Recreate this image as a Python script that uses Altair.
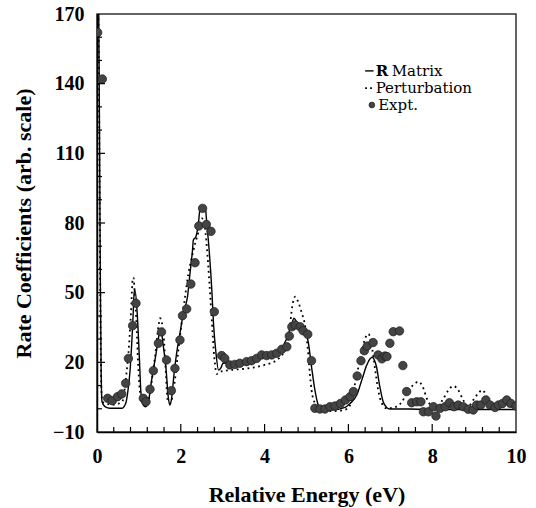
import altair as alt
import pandas as pd

# ---------------- data ----------------
expt_e = [0.015, 0.127, 0.255, 0.365, 0.49, 0.59, 0.685, 0.75, 0.85, 0.93,
          1.105, 1.17, 1.265, 1.345, 1.465, 1.54, 1.66, 1.775, 1.86, 1.98,
          2.04, 2.14, 2.24, 2.34, 2.43, 2.52, 2.61, 2.72, 2.80, 2.975,
          3.05, 3.17, 3.29, 3.41, 3.57, 3.69, 3.81, 3.93, 4.05, 4.17,
          4.29, 4.41, 4.53, 4.59, 4.65, 4.73, 4.85, 4.92, 5.03, 5.12,
          5.20, 5.32, 5.44, 5.56, 5.68, 5.81, 5.93, 6.04, 6.12, 6.21,
          6.30, 6.38, 6.45, 6.59, 6.71, 6.80, 6.87, 6.92, 6.99, 7.07,
          7.22, 7.30, 7.39, 7.51, 7.63, 7.73, 7.79, 7.91, 8.03, 8.09,
          8.19, 8.31, 8.41, 8.52, 8.62, 8.74, 8.86, 8.98, 9.06, 9.16,
          9.28, 9.38, 9.50, 9.58, 9.68, 9.78, 9.88, 10.0]
expt_v = [162, 142, 4.5, 3.5, 5.2, 6.4, 11, 21.7, 35.8, 45.4,
          4.5, 3.0, 8.4, 16.4, 28.2, 33.1, 21, 7.8, 17.4, 29.6,
          40.1, 43, 53.7, 62.9, 78.7, 86.3, 79.4, 76.4, 41.8, 22.9,
          21.7, 18.9, 19.1, 19.6, 20.3, 20.7, 21.7, 23.2, 22.9, 23.2,
          23.9, 25.6, 26.7, 31.3, 35.3, 36.1, 35.3, 33.6, 32.1, 20.7,
          0.2, -0.1, -0.1, 0.9, 1.2, 2.3, 3.8, 5.2, 7.4, 14.1,
          20.7, 25, 27, 28.5, 23.2, 21.5, 22.7, 22.5, 28.2, 33.2,
          33.5, 18.6, 7.4, 2.6, 3.0, 3.0, -1.3, -1.3, 0.9, -3.1,
          0.2, 0.9, 2.6, 0.9, 1.6, 0.9, -0.2, -0.5, 1.6, 1.6,
          3.8, 1.6, 0.6, 1.6, 2.3, 3.8, 2.3, 1.2]

rmatrix_e = [0.04, 0.06, 0.08, 0.10, 0.12, 0.19, 0.31, 0.59, 0.685, 0.74,
             0.79, 0.85, 0.89, 0.905, 0.96, 1.01, 1.05, 1.105, 1.16, 1.225,
             1.305, 1.41, 1.49, 1.52, 1.585, 1.65, 1.70, 1.74, 1.78, 1.84,
             1.90, 1.98, 2.06, 2.16, 2.22, 2.28, 2.30, 2.36, 2.42, 2.46,
             2.50, 2.58, 2.62, 2.67, 2.74, 2.78, 2.84, 2.90, 2.95, 3.01,
             3.3, 3.6, 3.9, 4.2, 4.37, 4.53, 4.65, 4.70, 4.80, 4.92,
             5.04, 5.12, 5.20, 5.28, 5.36, 5.6, 5.92, 6.04, 6.20, 6.32,
             6.44, 6.52, 6.57, 6.62, 6.67, 6.75, 6.83, 6.91, 6.99, 7.47,
             8.0, 9.0, 10.0]
rmatrix_v = [175, 120, 55, 15, 3, 0.9, 0.2, 0.2, 2.3, 8,
             16.7, 35.3, 50.4, 51.2, 41.1, 22.4, 6.7, 1.6, 0.9, 3,
             12.4, 23.9, 32.5, 33.9, 26.7, 16.7, 5.2, 1.6, 4.5, 15.2,
             23.9, 32.5, 41.1, 48.3, 58.3, 68.4, 72.7, 74.1, 79.8, 86.3,
             87.3, 87.3, 79.8, 69.8, 51.2, 36.8, 23.9, 16.7, 17.4, 19.6,
             20, 20.8, 21.8, 23.5, 25.3, 30.3, 36.8, 39, 36.1, 34.7,
             28.9, 18.1, 8.1, 1.6, -0.2, -0.5, 0.6, 2.3, 5.9, 12.4,
             18.9, 21.6, 22.2, 21, 18.1, 9.5, 3, 0.6, -0.1, -0.1,
             -0.3, -0.3, -0.3]

perturb_e = [0.03, 0.05, 0.07, 0.09, 0.11, 0.13, 0.19, 0.4, 0.6, 0.63,
             0.685, 0.75, 0.81, 0.85, 0.87, 0.905, 0.945, 0.985, 1.03, 1.105,
             1.19, 1.265, 1.32, 1.385, 1.465, 1.505, 1.585, 1.64, 1.685, 1.74,
             1.80, 1.86, 1.94, 2.02, 2.10, 2.18, 2.26, 2.34, 2.42, 2.50,
             2.56, 2.62, 2.68, 2.74, 2.80, 2.86, 2.94, 3.2, 3.6, 4.0,
             4.29, 4.45, 4.53, 4.60, 4.66, 4.73, 4.80, 4.89, 4.97, 5.04,
             5.08, 5.12, 5.20, 5.28, 5.6, 5.9, 6.04, 6.16, 6.24, 6.32,
             6.40, 6.48, 6.56, 6.64, 6.71, 6.80, 6.91, 7.15, 7.35, 7.43,
             7.55, 7.67, 7.79, 7.87, 8.03, 8.15, 8.27, 8.39, 8.51, 8.62,
             8.74, 8.86, 8.98, 9.10, 9.20, 9.30, 9.38, 9.6, 10.0]
perturb_v = [175, 130, 70, 25, 6, 3, 2.3, 1.8, 3, 4.5,
             12.4, 23.9, 41.1, 55.5, 56.5, 48.3, 35.3, 18.1, 6.7, 2.3,
             2.5, 6.7, 13.8, 22.4, 35.3, 39, 32.5, 16.7, 3.8, 2.3,
             5.2, 12.4, 25, 37, 48, 58, 65, 71, 76, 82,
             80, 70, 55, 38, 22, 15, 16, 16.7, 17.4, 18.9,
             21, 24, 27, 35, 44, 48.3, 46.1, 41.1, 35.3, 23.9,
             15.3, 8.1, 2.3, -0.5, -1, -0.5, 1.5, 11, 18.1, 25,
             30.3, 32.2, 26.7, 16.7, 8.1, 2.3, 0.2, 0.9, 5.2, 8.1,
             10.2, 11.7, 8.8, 4.5, 0.9, 1.5, 4.5, 8.1, 9.8, 8.1,
             3.8, 0.9, 3.8, 6.7, 8.1, 5.2, 2, 1, 1]

x_ticks = [0, 2, 4, 6, 8, 10]
y_ticks = [-10, 20, 50, 80, 110, 140, 170]
legend_labels = ["R Matrix", "Perturbation", "Expt."]

# ---------------- layout / style ----------------
W, H = 419, 418
FONT = "Liberation Serif"
LFONT = "DejaVu Serif"
LSIZE = 15

xs = alt.Scale(domain=[0, 10], nice=False, zero=False)
ys = alt.Scale(domain=[-10, 170], nice=False, zero=False)

x_axis = alt.Axis(values=x_ticks, title="Relative Energy (eV)", grid=False,
                  ticks=False, tickSize=0, labelFont=FONT, labelFontSize=20,
                  labelFontWeight="bold", labelPadding=14, labelFlush=False,
                  labelOverlap=False, labelColor="black",
                  titleFont=FONT, titleFontSize=22, titleFontWeight="bold",
                  titlePadding=18, titleColor="black",
                  domainColor="black", domainWidth=1.5)
y_axis = alt.Axis(values=y_ticks, title="Rate Coefficients (arb. scale)",
                  grid=False, ticks=False, tickSize=0, labelFont=FONT,
                  labelFontSize=20, labelFontWeight="bold", labelPadding=13,
                  labelFlush=False, labelOverlap=False, labelColor="black",
                  titleFont=FONT, titleFontSize=22, titleFontWeight="bold",
                  titlePadding=17, titleColor="black",
                  domainColor="black", domainWidth=1.5)


def X(field):
    return alt.X(field, scale=xs, axis=x_axis, title="Relative Energy (eV)")


def Y(field):
    return alt.Y(field, scale=ys, axis=y_axis, title="Rate Coefficients (arb. scale)")


rm_df = pd.DataFrame({"E": rmatrix_e, "v": rmatrix_v})
pt_df = pd.DataFrame({"E": perturb_e, "v": perturb_v})
ex_df = pd.DataFrame({"E": expt_e, "v": expt_v})

line_rm = alt.Chart(rm_df).mark_line(color="black", strokeWidth=1.4, clip=True,
                                     interpolate="monotone").encode(x=X("E:Q"), y=Y("v:Q"))
line_pt = alt.Chart(pt_df).mark_line(color="black", strokeWidth=1.8, clip=True,
                                     strokeDash=[1.8, 3.6], interpolate="monotone").encode(
    x=X("E:Q"), y=Y("v:Q"))
pts = alt.Chart(ex_df).mark_point(filled=True, shape="circle", size=72, fill="#444444",
                                  stroke="#1c1c1c", strokeWidth=0.7, opacity=1,
                                  clip=True).encode(x=X("E:Q"), y=Y("v:Q"))

# inward ticks
x_minor = [round(0.4 * i, 1) for i in range(1, 25) if 0.01 < (0.4 * i) % 2 < 1.99]
x_major = [2, 4, 6, 8]
y_minor = [v for v in range(0, 170, 10) if v not in y_ticks]
y_major = [20, 50, 80, 110, 140]


def xtick(vals, length):
    return alt.Chart(pd.DataFrame({"E": vals})).mark_rule(color="black", strokeWidth=1.2).encode(
        x=X("E:Q"), y=alt.value(H), y2=alt.value(H - length))


def ytick(vals, length):
    return alt.Chart(pd.DataFrame({"v": vals})).mark_rule(color="black", strokeWidth=1.2).encode(
        y=Y("v:Q"), x=alt.value(0), x2=alt.value(length))


# legend (anchored in data space)
lx0, lx1, ltx = 6.40, 6.60, 6.65
rows = [145.5, 138.1, 130.8]
leg_solid = alt.Chart(pd.DataFrame({"E": [lx0], "b": [lx1], "v": [rows[0]]})).mark_rule(
    color="black", strokeWidth=1.4).encode(x=X("E:Q"), x2="b:Q", y=Y("v:Q"))
leg_dot = alt.Chart(pd.DataFrame({"E": [lx0], "b": [lx1], "v": [rows[1]]})).mark_rule(
    color="black", strokeWidth=1.8, strokeDash=[1.8, 3.2]).encode(x=X("E:Q"), x2="b:Q", y=Y("v:Q"))
leg_pt = alt.Chart(pd.DataFrame({"E": [6.56], "v": [rows[2]]})).mark_point(
    filled=True, shape="circle", size=34, fill="#444444", stroke="#1c1c1c",
    strokeWidth=0.6, opacity=1).encode(x=X("E:Q"), y=Y("v:Q"))

label_R = legend_labels[0].split(" ", 1)
leg_R = alt.Chart(pd.DataFrame({"E": [ltx], "v": [rows[0]], "s": [label_R[0]]})).mark_text(
    align="left", baseline="middle", font=LFONT, fontSize=LSIZE, fontWeight="bold",
    color="black").encode(x=X("E:Q"), y=Y("v:Q"), text="s:N")
leg_M = alt.Chart(pd.DataFrame({"E": [ltx], "v": [rows[0]], "s": [label_R[1]]})).mark_text(
    align="left", baseline="middle", font=LFONT, fontSize=LSIZE, dx=16,
    color="black").encode(x=X("E:Q"), y=Y("v:Q"), text="s:N")
leg_rest = alt.Chart(pd.DataFrame({"E": [ltx, ltx + 0.06], "v": rows[1:],
                                   "s": legend_labels[1:]})).mark_text(
    align="left", baseline="middle", font=LFONT, fontSize=LSIZE,
    color="black").encode(x=X("E:Q"), y=Y("v:Q"), text="s:N")

chart = alt.layer(
    line_rm, line_pt, pts,
    xtick(x_minor, 5), xtick(x_major, 8), ytick(y_minor, 5), ytick(y_major, 8),
    leg_solid, leg_dot, leg_pt, leg_R, leg_M, leg_rest,
).properties(
    width=W, height=H,
    padding={"left": 97, "top": 14, "right": 20, "bottom": 76},
    autosize=alt.AutoSizeParams(type="none"),
    background="white",
).configure_view(stroke="#333333", strokeWidth=1.5)

chart.save("out.html", embed_options={"renderer": "svg", "actions": False})
